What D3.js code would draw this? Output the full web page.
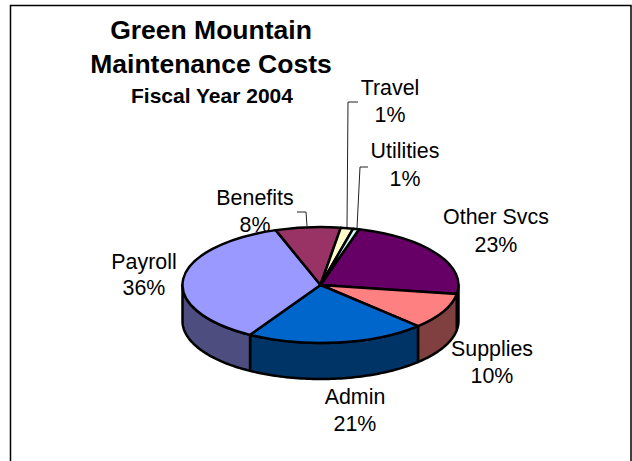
<!DOCTYPE html>
<html><head><meta charset="utf-8">
<script src="https://cdn.jsdelivr.net/npm/d3@7"></script>
<style>html,body{margin:0;padding:0;background:#fff}svg{display:block}text{font-family:"Liberation Sans",Arial,sans-serif;fill:#000;text-anchor:middle}</style>
</head><body><div id="c"></div>
<script>
const categories=["Other Svcs","Supplies","Admin","Payroll","Benefits","Travel","Utilities"];
const values=[23,10,21,36.2,7.6,1.45,0.7];
const topColors=["#660066","#FF8080","#0066CC","#9999FF","#993366","#FFFFCC","#CCFFFF"];
const sideColors=["#330033","#804040","#003366","#4D4D80","#4D1A33","#808066","#668080"];
const titleLines=["Green Mountain","Maintenance Costs"];
const subtitle="Fiscal Year 2004";
const labelPos=[[496,217,245],[492,349,376],[355,397,424],[144,262,288],[255,198,225],[390,88,115],[405,151,179]];
const leaders=[null,null,null,null,[[297,212],[306,212],[307,226]],[[358,102],[348,102],[347,227]],[[368,167],[360,167],[357,228]]];

const W=632,H=461,cx=320.5,cy=285,rx=138,ry=58,depth=36,start=16.2*Math.PI/180;
const svg=d3.select("#c").append("svg").attr("width",W).attr("height",H);
svg.append("rect").attr("x",10.5).attr("y",5.5).attr("width",620.5).attr("height",H+10).attr("fill","#fff").attr("stroke","#000").attr("stroke-width",1.5);
const pie=d3.pie().sort(null).startAngle(start).endAngle(start+2*Math.PI);
const arcs=pie(values);
const px=t=>cx+rx*Math.sin(t), py=t=>cy-ry*Math.cos(t);
const line=d3.line();
const sw=2.5;
leaders.forEach(l=>{ if(l) svg.append("path").attr("d",line(l)).attr("fill","none").attr("stroke","#222").attr("stroke-width",1);});
const labelFont=21.4;
categories.forEach((c,i)=>{
  const [x,y1,y2]=labelPos[i];
  svg.append("text").attr("x",x).attr("y",y1+6.5).attr("font-size",labelFont).text(c);
  svg.append("text").attr("x",x).attr("y",y2+6.5).attr("font-size",labelFont).text(Math.round(values[i])+"%");
});
arcs.forEach((a,i)=>{
  const lo=Math.max(a.startAngle,Math.PI/2), hi=Math.min(a.endAngle,3*Math.PI/2);
  if(hi<=lo) return;
  const ts=d3.range(0,61).map(k=>lo+(hi-lo)*k/60);
  const pts=ts.map(t=>[px(t),py(t)]).concat(ts.slice().reverse().map(t=>[px(t),py(t)+depth]));
  svg.append("path").attr("d",line(pts)+"Z").attr("fill",sideColors[i]).attr("stroke","#000").attr("stroke-width",sw).attr("stroke-linejoin","round");
});
const arc=d3.arc().innerRadius(0).outerRadius(rx);
const g=svg.append("g").attr("transform",`translate(${cx},${cy}) scale(1,${ry/rx})`);
g.selectAll("path").data(arcs).join("path").attr("d",arc)
 .attr("fill",(d,i)=>topColors[i]).attr("stroke","#000").attr("stroke-width",sw)
 .attr("stroke-linejoin","round").attr("vector-effect","non-scaling-stroke");
svg.append("text").attr("x",211).attr("y",39).attr("font-size",26.5).attr("font-weight","bold").text(titleLines[0]);
svg.append("text").attr("x",211).attr("y",73).attr("font-size",26.5).attr("font-weight","bold").text(titleLines[1]);
svg.append("text").attr("x",212).attr("y",103).attr("font-size",21).attr("font-weight","bold").text(subtitle);
</script></body></html>
